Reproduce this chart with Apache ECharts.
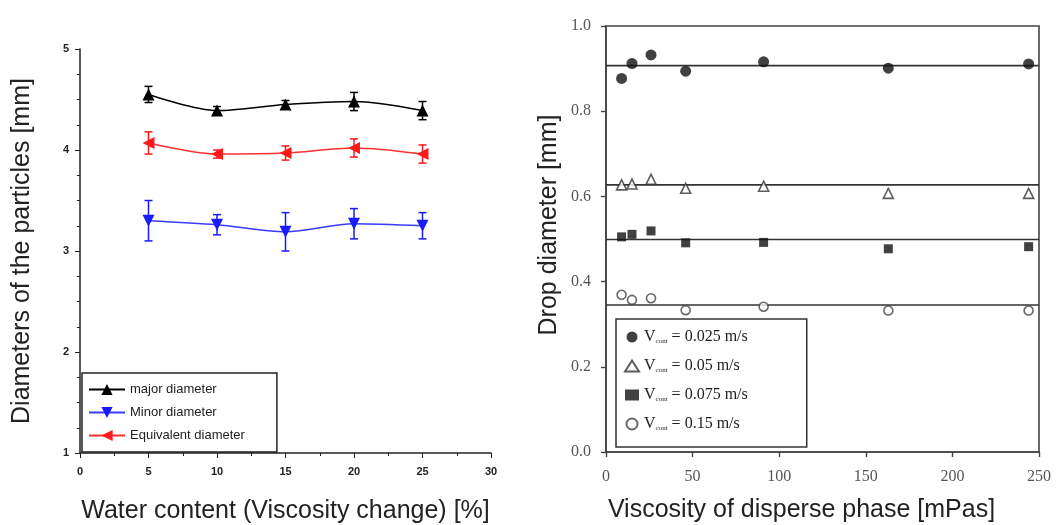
<!DOCTYPE html>
<html>
<head>
<meta charset="utf-8">
<script src="https://cdn.jsdelivr.net/npm/echarts@6/dist/echarts.min.js"></script>
<style>
  html, body { margin: 0; padding: 0; background: #fff; }
  #chart { width: 1060px; height: 525px; }
</style>
</head>
<body>
<div id="chart"></div>
<script>
// left panel: particle diameters vs water content
const waterContent = [5, 10, 15, 20, 25];
const majorMean = [4.55, 4.39, 4.45, 4.48, 4.39];
const majorErr  = [0.08, 0.04, 0.04, 0.09, 0.09];
const minorMean = [3.30, 3.26, 3.19, 3.27, 3.25];
const minorErr  = [0.20, 0.10, 0.19, 0.15, 0.13];
const equivMean = [4.07, 3.96, 3.97, 4.02, 3.96];
const equivErr  = [0.11, 0.04, 0.07, 0.09, 0.09];

// right panel: drop diameter vs viscosity
const viscosity = [9, 15, 26, 46, 91, 163, 244];
const v025 = [0.877, 0.912, 0.932, 0.894, 0.916, 0.901, 0.911];
const v05  = [0.627, 0.629, 0.640, 0.619, 0.624, 0.607, 0.607];
const v075 = [0.505, 0.511, 0.519, 0.491, 0.492, 0.477, 0.482];
const v15  = [0.369, 0.357, 0.361, 0.333, 0.341, 0.332, 0.332];
const fitLevels = [0.907, 0.627, 0.499, 0.345];
const viscRange = [0, 250];

const chart = echarts.init(document.getElementById('chart'));

const pair = (xs, ys) => xs.map((x, i) => [x, ys[i]]);
const errData = (xs, m, e) => xs.map((x, i) => [x, m[i] - e[i], m[i] + e[i]]);

// error bars drawn as custom series
function errorSeries(xs, m, e, color) {
  return {
    type: 'custom', xAxisIndex: 0, yAxisIndex: 0, z: 3,
    data: errData(xs, m, e),
    renderItem: function (params, api) {
      const lo = api.coord([api.value(0), api.value(1)]);
      const hi = api.coord([api.value(0), api.value(2)]);
      const w = 4;
      const st = { stroke: color, lineWidth: 1.5 };
      return {
        type: 'group',
        children: [
          { type: 'line', shape: { x1: lo[0], y1: lo[1], x2: hi[0], y2: hi[1] }, style: st },
          { type: 'line', shape: { x1: lo[0] - w, y1: lo[1], x2: lo[0] + w, y2: lo[1] }, style: st },
          { type: 'line', shape: { x1: hi[0] - w, y1: hi[1], x2: hi[0] + w, y2: hi[1] }, style: st }
        ]
      };
    }
  };
}

const leftLabel = { fontFamily: 'Liberation Sans', fontSize: 11, fontWeight: 'bold', color: '#222' };
const rightLabel = { fontFamily: 'Liberation Serif', fontSize: 16, color: '#555' };
const titleFont = { fontFamily: 'Liberation Sans', fontSize: 25, color: '#222' };

const legendFmt = {
  'Vcont = 0.025 m/s': '{v|V}{s|cont}{v| = 0.025 m/s}',
  'Vcont = 0.05 m/s': '{v|V}{s|cont}{v| = 0.05 m/s}',
  'Vcont = 0.075 m/s': '{v|V}{s|cont}{v| = 0.075 m/s}',
  'Vcont = 0.15 m/s': '{v|V}{s|cont}{v| = 0.15 m/s}'
};

const fitSeries = fitLevels.map(v => ({
  type: 'line', xAxisIndex: 1, yAxisIndex: 1, symbol: 'none', silent: true,
  lineStyle: { color: '#333', width: 1.6 },
  data: viscRange.map(x => [x, v])
}));

const option = {
  animation: false,
  grid: [
    { left: 80, top: 49, width: 411, height: 404, outerBoundsMode: 'none' },
    { left: 606, top: 26, width: 433, height: 426, outerBoundsMode: 'none',
      show: true, borderColor: '#444', borderWidth: 1.6 }
  ],
  xAxis: [
    {
      gridIndex: 0, type: 'value', min: 0, max: 30, interval: 5,
      name: 'Water content (Viscosity change) [%]', nameLocation: 'middle', nameGap: 46, nameTextStyle: titleFont,
      axisLine: { lineStyle: { color: '#222', width: 1.5 } },
      axisTick: { length: 5, lineStyle: { color: '#222' } },
      minorTick: { show: true, splitNumber: 2, length: 3, lineStyle: { color: '#222' } },
      splitLine: { show: false },
      axisLabel: Object.assign({ margin: 13 }, leftLabel)
    },
    {
      gridIndex: 1, type: 'value', min: 0, max: 250, interval: 50,
      name: 'Viscosity of disperse phase [mPas]', nameLocation: 'middle', nameGap: 46,
      nameTextStyle: Object.assign({ padding: [0, 42, 0, 0] }, titleFont),
      axisLine: { lineStyle: { color: '#444', width: 1.6 } },
      axisTick: { length: 5, lineStyle: { color: '#444', width: 1.4 } },
      splitLine: { show: false },
      axisLabel: Object.assign({ margin: 17 }, rightLabel)
    }
  ],
  yAxis: [
    {
      gridIndex: 0, type: 'value', min: 1, max: 5, interval: 1,
      name: 'Diameters of the particles [mm]', nameLocation: 'middle', nameGap: 45, nameTextStyle: titleFont,
      axisLine: { show: true, lineStyle: { color: '#222', width: 1.5 } },
      axisTick: { show: true, length: 5, lineStyle: { color: '#222' } },
      minorTick: { show: true, splitNumber: 4, length: 3, lineStyle: { color: '#222' } },
      splitLine: { show: false },
      axisLabel: Object.assign({ margin: 11 }, leftLabel)
    },
    {
      gridIndex: 1, type: 'value', min: 0, max: 1.0, interval: 0.2,
      name: 'Drop diameter [mm]', nameLocation: 'middle', nameGap: 44,
      nameTextStyle: Object.assign({ padding: [0, 0, 0, 28] }, titleFont),
      axisLine: { show: true, lineStyle: { color: '#444', width: 1.6 } },
      axisTick: { show: true, length: 5, lineStyle: { color: '#444', width: 1.4 } },
      splitLine: { show: false },
      axisLabel: Object.assign({ margin: 15, formatter: v => v.toFixed(1) }, rightLabel)
    }
  ],
  legend: [
    {
      left: 82, top: 373, orient: 'vertical',
      data: ['major diameter', 'Minor diameter', 'Equivalent diameter'],
      itemWidth: 36, itemHeight: 14, itemGap: 10, padding: [10, 32, 10, 6],
      borderColor: '#222', borderWidth: 1.5, borderRadius: 0,
      textStyle: { fontFamily: 'Liberation Sans', fontSize: 13, color: '#222' }
    },
    {
      left: 616, top: 319, orient: 'vertical',
      data: Object.keys(legendFmt),
      formatter: n => legendFmt[n],
      itemWidth: 14, itemHeight: 11, itemGap: 13, padding: [10, 59, 15, 8],
      borderColor: '#333', borderWidth: 1.5, borderRadius: 0,
      textStyle: {
        rich: {
          v: { fontFamily: 'Liberation Serif', fontSize: 16, color: '#222' },
          s: { fontFamily: 'Liberation Serif', fontSize: 7, color: '#222', verticalAlign: 'bottom', padding: [6, 0, 0, 0] }
        }
      }
    }
  ],
  series: [
    {
      name: 'major diameter', type: 'line', xAxisIndex: 0, yAxisIndex: 0, smooth: 0.3, z: 4,
      symbol: 'triangle', symbolSize: 12,
      itemStyle: { color: '#000' }, lineStyle: { color: '#000', width: 1.5 },
      data: pair(waterContent, majorMean)
    },
    {
      name: 'Minor diameter', type: 'line', xAxisIndex: 0, yAxisIndex: 0, smooth: 0.3, z: 4,
      symbol: 'triangle', symbolRotate: 180, symbolSize: 12,
      itemStyle: { color: '#1a1aff' }, lineStyle: { color: '#3a3aff', width: 1.5 },
      data: pair(waterContent, minorMean)
    },
    {
      name: 'Equivalent diameter', type: 'line', xAxisIndex: 0, yAxisIndex: 0, smooth: 0.3, z: 4,
      symbol: 'triangle', symbolRotate: 90, symbolSize: 12,
      itemStyle: { color: '#ff1a1a' }, lineStyle: { color: '#ff3030', width: 1.5 },
      data: pair(waterContent, equivMean)
    },
    errorSeries(waterContent, majorMean, majorErr, '#000'),
    errorSeries(waterContent, minorMean, minorErr, '#1a1aff'),
    errorSeries(waterContent, equivMean, equivErr, '#ff1a1a'),
    ...fitSeries,
    {
      name: 'Vcont = 0.025 m/s', type: 'scatter', xAxisIndex: 1, yAxisIndex: 1, z: 4,
      symbol: 'circle', symbolSize: 11, itemStyle: { color: '#111' },
      data: pair(viscosity, v025)
    },
    {
      name: 'Vcont = 0.05 m/s', type: 'scatter', xAxisIndex: 1, yAxisIndex: 1, z: 4,
      symbol: 'triangle', symbolSize: 10,
      itemStyle: { color: '#fff', borderColor: '#333', borderWidth: 1.6 },
      data: pair(viscosity, v05)
    },
    {
      name: 'Vcont = 0.075 m/s', type: 'scatter', xAxisIndex: 1, yAxisIndex: 1, z: 4,
      symbol: 'rect', symbolSize: 9, itemStyle: { color: '#111' },
      data: pair(viscosity, v075)
    },
    {
      name: 'Vcont = 0.15 m/s', type: 'scatter', xAxisIndex: 1, yAxisIndex: 1, z: 4,
      symbol: 'circle', symbolSize: 9,
      itemStyle: { color: '#fff', borderColor: '#444', borderWidth: 1.6 },
      data: pair(viscosity, v15)
    }
  ]
};

chart.setOption(option);
</script>
</body>
</html>
